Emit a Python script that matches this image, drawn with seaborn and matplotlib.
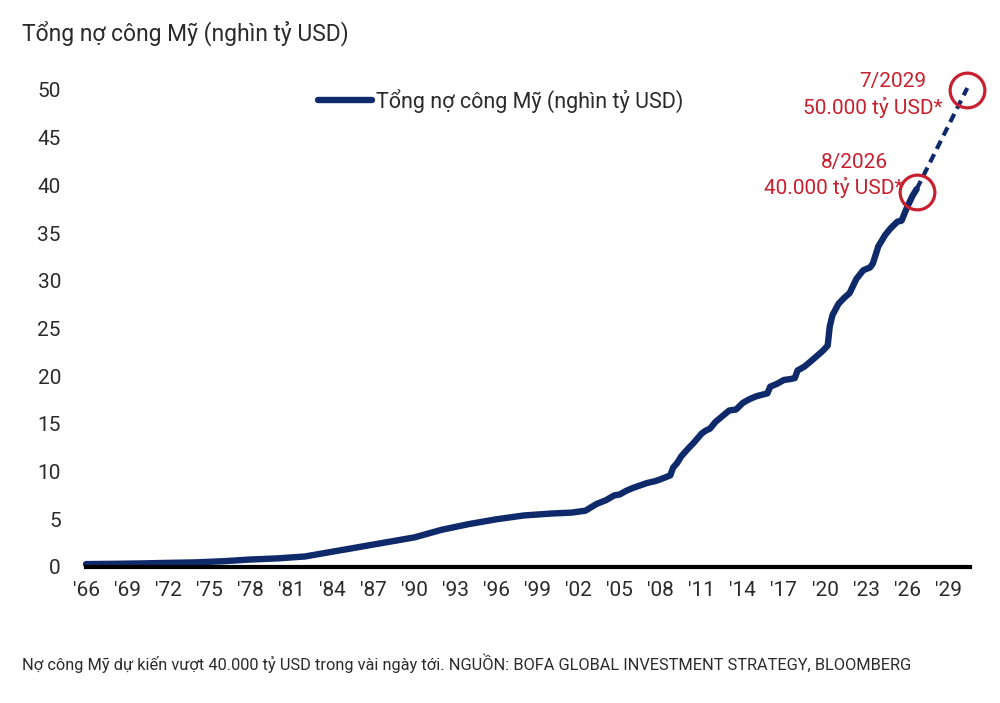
import pandas as pd
import matplotlib.pyplot as plt
import seaborn as sns

# -----------------------------
# Datos
# -----------------------------
years = [1966, 1968, 1970, 1972, 1974, 1976, 1978, 1980, 1982, 1984, 1986, 1988,
         1990, 1992, 1994, 1996, 1998, 2000, 2001.5, 2002.5, 2003.3, 2004, 2004.6,
         2005, 2005.5, 2006, 2006.6, 2007, 2007.6, 2008, 2008.7, 2008.9, 2009.2,
         2009.5, 2010, 2010.4, 2011, 2011.3, 2011.6, 2012, 2012.5, 2013, 2013.5,
         2014, 2014.5, 2015, 2015.8, 2016, 2016.5, 2017, 2017.5, 2017.8, 2018,
         2018.5, 2019, 2019.4, 2019.8, 2020.2, 2020.35, 2020.55, 2021, 2021.4,
         2021.8, 2022.3, 2022.8, 2023.3, 2023.5, 2023.9, 2024.4, 2024.8, 2025.3,
         2025.6, 2026.0, 2026.4, 2026.7]
debt = [0.3, 0.33, 0.37, 0.43, 0.48, 0.6, 0.78, 0.9, 1.1, 1.6, 2.1, 2.6,
        3.1, 3.9, 4.5, 5.0, 5.4, 5.6, 5.7, 5.9, 6.6, 7.0, 7.5,
        7.6, 8.0, 8.3, 8.6, 8.8, 9.0, 9.2, 9.6, 10.4, 10.9,
        11.6, 12.4, 13.0, 14.0, 14.3, 14.5, 15.2, 15.8, 16.4, 16.5,
        17.2, 17.6, 17.9, 18.2, 18.9, 19.2, 19.6, 19.7, 19.8, 20.6,
        21.0, 21.6, 22.1, 22.6, 23.2, 25.2, 26.4, 27.6, 28.2,
        28.7, 30.2, 31.1, 31.4, 31.8, 33.6, 34.8, 35.5, 36.2,
        36.3, 37.7, 38.9, 39.6]

proj_years = [2026.7, 2030.4]
proj_debt = [39.6, 50.2]

milestone_years = [2026.7, 2030.4]
milestone_debt = [39.3, 50.0]
milestone_dates = ["8/2026", "7/2029"]
milestone_values = ["40.000 tỷ USD*", "50.000 tỷ USD*"]

tick_years = list(range(1966, 2030, 3))
tick_labels = [f"'{y % 100:02d}" for y in tick_years]
y_ticks = list(range(0, 51, 5))

title = "Tổng nợ công Mỹ (nghìn tỷ USD)"
legend_label = "Tổng nợ công Mỹ (nghìn tỷ USD)"
footer = ("Nợ công Mỹ dự kiến vượt 40.000 tỷ USD trong vài ngày tới. "
          "NGUỒN: BOFA GLOBAL INVESTMENT STRATEGY, BLOOMBERG")

# -----------------------------
# Estilo
# -----------------------------
sns.set_theme(style="white")
plt.rcParams['font.family'] = ['Roboto', 'DejaVu Sans']
navy = "#0f2a6b"
red = "#c8202f"
text_col = "#2b2b2b"

df = pd.DataFrame({"Year": years, "Debt": debt})
df_proj = pd.DataFrame({"Year": proj_years, "Debt": proj_debt})

fig = plt.figure(figsize=(10, 7.03), dpi=100)
ax = fig.add_axes([0.086, 0.1935, 0.884, 0.7057])

sns.lineplot(data=df, x="Year", y="Debt", color=navy, linewidth=4.6,
             ax=ax, label=legend_label, clip_on=False)
sns.lineplot(data=df_proj, x="Year", y="Debt", color=navy, linewidth=3,
             linestyle=(0, (2.2, 1.4)), ax=ax, clip_on=False)

# Círculos rojos
ax.plot(milestone_years, milestone_debt, linestyle="none", marker="o",
        markersize=25, markerfacecolor="none", markeredgecolor=red,
        markeredgewidth=2.3, clip_on=False)

offsets_date = [(-62, 30), (-74, 8)]
offsets_val = [(-83, 5), (-94, -18)]
for i in range(2):
    ax.annotate(milestone_dates[i], (milestone_years[i], milestone_debt[i]),
                xytext=offsets_date[i], textcoords="offset pixels",
                ha="center", va="center", color=red, fontsize=15)
    ax.annotate(milestone_values[i], (milestone_years[i], milestone_debt[i]),
                xytext=offsets_val[i], textcoords="offset pixels",
                ha="center", va="center", color=red, fontsize=15)

# Ejes
ax.set_xlim(1966, 2030.6)
ax.set_ylim(0, 52)
ax.set_xticks(tick_years)
ax.set_xticklabels(tick_labels)
ax.set_yticks(y_ticks)
ax.set_xlabel("")
ax.set_ylabel("")
ax.tick_params(axis="both", length=0, labelsize=15, colors=text_col)
ax.tick_params(axis="y", pad=18)
ax.tick_params(axis="x", pad=10)
for s in ["left", "top", "right"]:
    ax.spines[s].set_visible(False)
ax.spines["bottom"].set_color("black")
ax.spines["bottom"].set_linewidth(3)
ax.grid(False)

leg = ax.legend(loc="center left", bbox_to_anchor=(0.25, 0.94), frameon=False,
                fontsize=15.5, handlelength=2.5, handletextpad=0.2, borderpad=0)
for t in leg.get_texts():
    t.set_color(text_col)

fig.text(0.022, 0.953, title, fontsize=16.5, color=text_col, va="center", ha="left")
fig.text(0.022, 0.056, footer, fontsize=11.8, color=text_col, va="center", ha="left")

plt.savefig("out.png", dpi=100)
